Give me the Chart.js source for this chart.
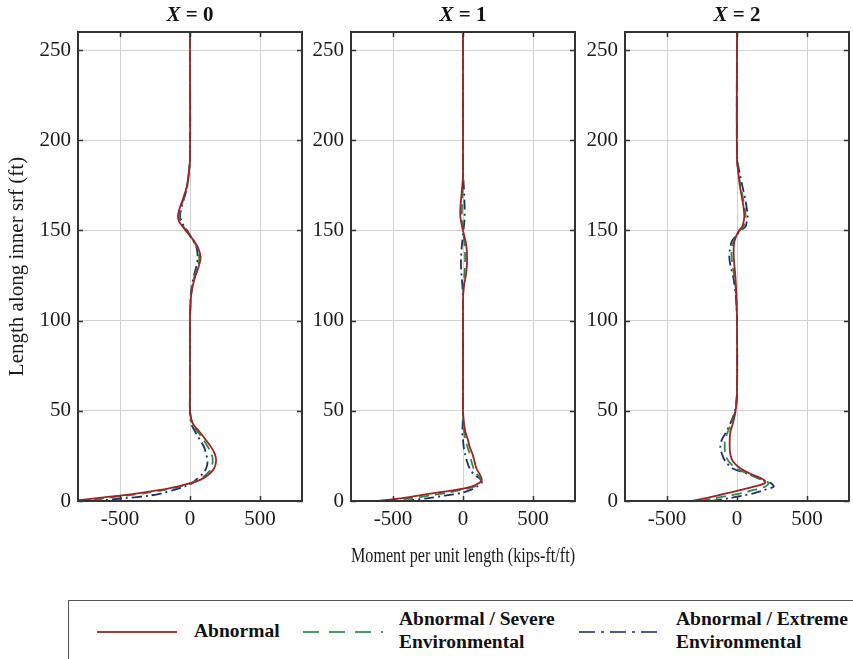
<!DOCTYPE html>
<html>
<head>
<meta charset="utf-8">
<script src="https://cdn.jsdelivr.net/npm/chart.js@4.4.0/dist/chart.umd.min.js"></script>
<style>
    body { margin: 0; background: #fff; width: 853px; height: 659px; overflow: hidden; position: relative; font-family: 'Liberation Serif', serif; }
    canvas { position: absolute; top: 0; }
    .ptitle { position: absolute; top: 2px; font-weight: bold; font-size: 21px; color: #111; transform: translateX(-50%); white-space: nowrap; }
    .legend { position: absolute; left: 68px; top: 600px; width: 820px; height: 80px; border: 1px solid #555; box-sizing: border-box; }
    .item { position: absolute; font-weight: bold; font-size: 19.5px; color: #111; line-height: 23px; white-space: nowrap; }
    .legend svg { position: absolute; }
</style>
</head>
<body>
<canvas id="c0" width="310" height="572" style="left:0px"></canvas>
<canvas id="c1" width="272" height="572" style="left:310px"></canvas>
<canvas id="c2" width="271" height="572" style="left:582px"></canvas>
<div class="ptitle" style="left:190px"><i>X</i> = 0</div>
<div class="ptitle" style="left:463px"><i>X</i> = 1</div>
<div class="ptitle" style="left:737px"><i>X</i> = 2</div>
<div class="legend">
    <svg style="left:28px;top:28px" width="82" height="6"><line x1="0" y1="3" x2="80" y2="3" stroke="#a33a3a" stroke-width="2"/></svg>
    <div class="item" style="left:125px;top:18px">Abnormal</div>
    <svg style="left:234px;top:28px" width="82" height="6"><line x1="0" y1="3" x2="80" y2="3" stroke="#4a9a68" stroke-width="2" stroke-dasharray="16,10"/></svg>
    <div class="item" style="left:330px;top:6px">Abnormal / Severe<br>Environmental</div>
    <svg style="left:510px;top:28px" width="82" height="6"><line x1="0" y1="3" x2="80" y2="3" stroke="#4c5c90" stroke-width="2" stroke-dasharray="16,6,3,6"/></svg>
    <div class="item" style="left:607px;top:6px">Abnormal / Extreme<br>Environmental</div>
</div>
<script>
// heights along inner surface (ft), shared by every series
const heights = [0, 1.5, 3, 4.5, 6, 8, 10, 12, 15, 18, 22, 26, 30, 34, 38, 43, 50, 60, 100, 110, 115, 120, 125, 130, 135, 140, 144, 148, 150, 152, 155, 158, 162, 167, 174, 180, 190, 260];

// X = 0
const abnormal0 = [-840, -676, -500, -350, -224, -90, 10, 80, 138, 172, 186, 178, 150, 112, 72, 20, 0, 0, 0, 4, 10, 22, 40, 62, 76, 60, 30, -10, -32, -52, -78, -86, -75, -52, -24, -12, 0, 0];
const severe0 = [-800, -620, -450, -310, -190, -70, 15, 70, 120, 150, 162, 155, 128, 95, 58, 15, 0, 0, 0, 4, 8, 18, 34, 55, 66, 55, 28, -8, -26, -46, -68, -76, -68, -48, -22, -10, 0, 0];
const extreme0 = [-700, -470, -290, -190, -120, -40, 20, 45, 90, 115, 126, 115, 100, 70, 40, 8, 0, 0, 0, 3, 6, 15, 28, 45, 55, 48, 25, -5, -20, -40, -60, -71, -62, -45, -20, -10, 0, 0];

// X = 1
const abnormal1 = [-610, -448, -320, -195, -60, 60, 115, 134, 118, 96, 82, 68, 48, 35, 18, 7, 0, 0, 0, 0, 2, 8, 20, 27, 29, 26, 18, 6, 0, -6, -14, -19, -19, -14, -6, 0, 0, 0];
const severe1 = [-540, -380, -240, -125, -20, 80, 125, 128, 100, 76, 60, 48, 32, 18, 8, 3, 0, 0, 0, 0, 1, 4, 10, 14, 15, 13, 8, 3, 0, -3, -6, -8, -7, -5, -2, 0, 0, 0];
const extreme1 = [-420, -257, -130, -10, 50, 100, 133, 125, 75, 48, 28, 15, 5, 0, -5, -2, 0, 0, 0, 0, -2, -5, -10, -14, -14, -10, -5, 0, 3, 6, 10, 12, 12, 10, 6, 2, 0, 0];

// X = 2
const abnormal2 = [-321, -230, -140, -60, 20, 120, 200, 185, 100, 25, -30, -48, -52, -52, -48, -30, -10, 0, 0, -3, -5, -8, -12, -18, -23, -24, -18, 0, 15, 36, 48, 52, 48, 38, 22, 12, 0, 0];
const severe2 = [-262, -160, -60, 40, 115, 200, 226, 170, 80, -5, -60, -83, -88, -85, -68, -40, -12, 0, 0, -4, -7, -12, -20, -30, -38, -38, -25, 2, 20, 45, 58, 62, 56, 45, 28, 15, 0, 0];
const extreme2 = [-179, -60, 40, 130, 190, 262, 240, 170, 80, -30, -83, -107, -119, -108, -79, -48, -15, 0, 0, -5, -10, -18, -29, -45, -55, -50, -36, 5, 25, 60, 70, 76, 70, 60, 40, 24, 2, 0];

const seriesNames = ['Abnormal', 'Abnormal / Severe Environmental', 'Abnormal / Extreme Environmental'];
const xTicks = [-500, 0, 500];
const yTicks = [0, 50, 100, 150, 200, 250];

const panels = [
    [abnormal0, severe0, extreme0],
    [abnormal1, severe1, extreme1],
    [abnormal2, severe2, extreme2]
];

const lineColors = ['#9e2424', '#2f8a4a', '#1f2f6e'];
const lineDashes = [[], [10, 6], [10, 4, 2, 4]];
const serif = "'Liberation Serif', 'Times New Roman', serif";

// inner tick marks and full box, the way the original plot has them
const boxPlugin = {
    id: 'boxTicks',
    afterDatasetsDraw(chart) {
        const ctx = chart.ctx;
        const a = chart.chartArea;
        const xs = chart.scales.x, ys = chart.scales.y;
        ctx.save();
        ctx.strokeStyle = '#333';
        ctx.lineWidth = 1.5;
        ctx.beginPath();
        xTicks.forEach(v => {
            const px = Math.round(xs.getPixelForValue(v)) + 0.5;
            ctx.moveTo(px, a.bottom); ctx.lineTo(px, a.bottom - 5);
            ctx.moveTo(px, a.top); ctx.lineTo(px, a.top + 5);
        });
        yTicks.forEach(v => {
            const py = Math.round(ys.getPixelForValue(v)) + 0.5;
            ctx.moveTo(a.left, py); ctx.lineTo(a.left + 5, py);
            ctx.moveTo(a.right, py); ctx.lineTo(a.right - 5, py);
        });
        ctx.stroke();
        ctx.lineWidth = 2;
        ctx.strokeRect(a.left, a.top, a.right - a.left, a.bottom - a.top);
        ctx.restore();
    }
};

const yWidths = [78, 41, 43];
const rightPads = [8, 7, 4];

panels.forEach((series, p) => {
    const datasets = series.map((vals, s) => ({
        label: seriesNames[s],
        data: heights.map((h, i) => ({ x: vals[i], y: h })),
        showLine: true,
        borderColor: lineColors[s],
        borderWidth: 1.8,
        borderDash: lineDashes[s],
        pointRadius: 0,
        tension: 0.3,
        fill: false
    }));

    new Chart(document.getElementById('c' + p), {
        type: 'scatter',
        data: { datasets: datasets },
        plugins: [boxPlugin],
        options: {
            responsive: false,
            animation: false,
            layout: { padding: { top: 32, right: rightPads[p], left: 0, bottom: 0 } },
            plugins: {
                legend: { display: false },
                tooltip: { enabled: false }
            },
            scales: {
                x: {
                    type: 'linear',
                    min: -800,
                    max: 800,
                    afterFit: scale => { scale.height = 71; },
                    afterBuildTicks: scale => { scale.ticks = xTicks.map(v => ({ value: v })); },
                    grid: { color: '#d2d2d2', lineWidth: 1, drawTicks: false },
                    border: { display: false },
                    ticks: { color: '#1a1a1a', padding: 6, font: { family: serif, size: 21 } },
                    title: {
                        display: p === 1,
                        text: 'Moment per unit length (kips-ft/ft)',
                        color: '#1a1a1a',
                        font: { family: serif, size: 21 },
                        padding: { top: 0, bottom: 3 }
                    }
                },
                y: {
                    type: 'linear',
                    min: 0,
                    max: 260,
                    afterFit: scale => { scale.width = yWidths[p]; },
                    afterBuildTicks: scale => { scale.ticks = yTicks.map(v => ({ value: v })); },
                    grid: { color: '#d2d2d2', lineWidth: 1, drawTicks: false },
                    border: { display: false },
                    ticks: { color: '#1a1a1a', padding: 7, font: { family: serif, size: 21 } },
                    title: {
                        display: p === 0,
                        text: 'Length along inner srf (ft)',
                        color: '#1a1a1a',
                        font: { family: serif, size: 21 },
                        padding: { top: 5, bottom: 4 }
                    }
                }
            }
        }
    });
});
</script>
</body>
</html>
